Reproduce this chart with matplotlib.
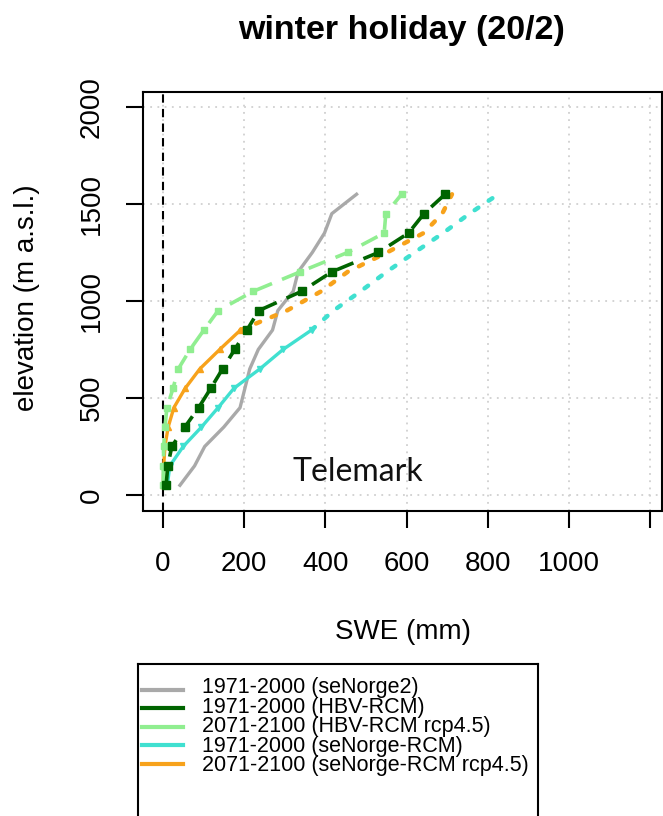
import matplotlib
matplotlib.use("Agg")
import matplotlib.pyplot as plt
import numpy as np

# ---------------- data ----------------
elevation = [50, 150, 250, 350, 450, 550, 650, 750, 850, 950, 1050, 1150, 1250, 1350, 1450, 1550]
swe_senorge2 = [42, 78, 103, 150, 190, 202, 214, 235, 270, 283, 321, 333, 368, 398, 416, 477]
swe_hbv_rcm = [8, 12, 22, 54, 88, 118, 147, 177, 207, 236, 342, 416, 531, 605, 643, 695]
swe_hbv_rcp45 = [1, 1, 2, 5, 10, 25, 38, 67, 101, 136, 223, 338, 455, 545, 549, 588]
swe_senorge_rcm = [11, 17, 50, 95, 136, 175, 239, 296, 366, 420, 487, 551, 620, 690, 755, 826]
swe_senorge_rcp45 = [1, 2, 5, 13, 27, 55, 91, 140, 191, 305, 390, 455, 552, 642, 688, 712]
solid_limit = 850  # seNorge-RCM curves drawn solid up to this elevation, dotted above

legend_labels = ["1971-2000 (seNorge2)", "1971-2000 (HBV-RCM)", "2071-2100 (HBV-RCM rcp4.5)",
                 "1971-2000 (seNorge-RCM)", "2071-2100 (seNorge-RCM rcp4.5)"]
x_ticks = [0, 200, 400, 600, 800, 1000, 1200]
x_ticklabels = ["0", "200", "400", "600", "800", "1000", ""]
y_ticks = [0, 500, 1000, 1500, 2000]

c_grey = "#a9a9a9"
c_dgreen = "#006400"
c_lgreen = "#90ee90"
c_cyan = "#40e0d0"
c_orange = "#f7a21b"

plt.rcParams['font.family'] = ['Liberation Sans', 'DejaVu Sans']

W, H = 663, 816
fig = plt.figure(figsize=(W / 100, H / 100), dpi=100)

L, R, T, B = 143, 661.5, 92, 510.5
ax = fig.add_axes([L / W, 1 - B / H, (R - L) / W, (B - T) / H])
ax.set_xlim(-49, 1228)
ax.set_ylim(-80, 2077)

ax.set_axisbelow(True)
ax.grid(True, color="#d0d0d0", linestyle=(0, (1, 3)), linewidth=1.3)
ax.axvline(0, color="black", linestyle=(0, (4, 3)), linewidth=1.5, zorder=1.5)

elev = np.array(elevation)
low = elev <= solid_limit
high = elev >= solid_limit

ax.plot(swe_senorge2, elevation, color=c_grey, lw=2.4, zorder=3)
ax.plot(np.array(swe_senorge_rcm)[low], elev[low], color=c_cyan, lw=2.4, marker="v", ms=5, zorder=3)
ax.plot(np.array(swe_senorge_rcm)[high], elev[high], color=c_cyan, lw=3.2,
        linestyle=(0, (1, 2.8)), dash_capstyle="round", zorder=3)
ax.plot(np.array(swe_senorge_rcp45)[low], elev[low], color=c_orange, lw=2.4, marker="^", ms=5, zorder=3)
ax.plot(np.array(swe_senorge_rcp45)[high], elev[high], color=c_orange, lw=3.2,
        linestyle=(0, (1, 2.8)), dash_capstyle="round", zorder=3)
ax.plot(swe_hbv_rcp45, elevation, color=c_lgreen, lw=2.6, linestyle=(0, (5, 3)),
        marker="s", ms=4.5, zorder=4)
ax.plot(swe_hbv_rcm, elevation, color=c_dgreen, lw=2.6, linestyle=(0, (5, 3)),
        marker="s", ms=6, zorder=5)

ax.set_xticks(x_ticks)
ax.set_xticklabels(x_ticklabels)
ax.set_yticks(y_ticks)
ax.tick_params(axis="both", direction="out", length=12.5, width=1.5, labelsize=20, color="black")
ax.tick_params(axis="x", pad=17)
ax.tick_params(axis="y", pad=15, labelrotation=90)
for lab in ax.get_yticklabels():
    lab.set_va("center")
for s in ax.spines.values():
    s.set_linewidth(1.5)

ax.text(480, 118, "Telemark", fontsize=23, family=["Lato", "DejaVu Sans"],
        ha="center", va="center", color="#111111")

fig.text(402 / W, 1 - 30 / H, "winter holiday (20/2)", fontsize=24.5, weight="bold",
         ha="center", va="center")
fig.text(403 / W, 1 - 632 / H, "SWE (mm)", fontsize=20, ha="center", va="center")
fig.text(27 / W, 1 - 298 / H, "elevation (m a.s.l.)", fontsize=20, rotation=90,
         ha="center", va="center")

# legend box (extends below the figure edge as in the reference)
LL, LR, LT = 138, 538, 664
ext = 0.05
lax = fig.add_axes([LL / W, -ext, (LR - LL) / W, (H - LT) / H + ext])
lax.set_xlim(0, LR - LL)
lax.set_ylim(H + ext * H - LT, 0)
lax.set_xticks([])
lax.set_yticks([])
for s in lax.spines.values():
    s.set_linewidth(1.5)
row0, dy = 26, 18.4
colors = [c_grey, c_dgreen, c_lgreen, c_cyan, c_orange]
for i, col in enumerate(colors):
    y = row0 + i * dy
    lax.plot([4, 45], [y, y], color=col, lw=3)
lax.text(64, row0 + 2 * dy, "\n".join(legend_labels), fontsize=15.5, ha="left", va="center",
         linespacing=0.906)

fig.savefig("out.png", dpi=100)
